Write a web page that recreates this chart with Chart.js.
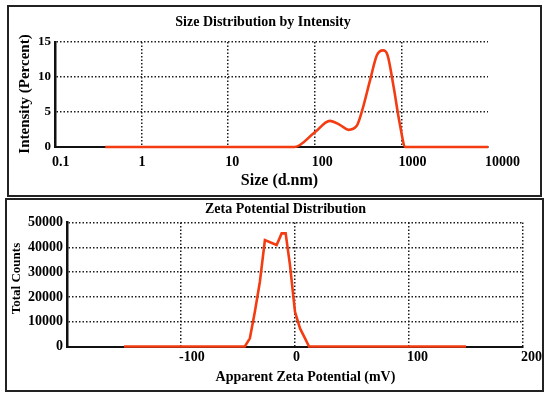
<!DOCTYPE html>
<html><head><meta charset="utf-8">
<script src="https://cdn.jsdelivr.net/npm/chart.js@4.4.1/dist/chart.umd.min.js"></script>
<style>
html,body{margin:0;padding:0;background:#fff;}
body{width:550px;height:399px;position:relative;overflow:hidden;}
.panel{position:absolute;border:2px solid #222;box-sizing:border-box;}
#p1{left:7px;top:5px;width:535px;height:192px;}
#p2{left:5px;top:198px;width:539px;height:194px;}
canvas{position:absolute;left:0;}
#c1{top:0;}
#c2{top:199px;}
</style></head><body>
<div class="panel" id="p1"></div>
<div class="panel" id="p2"></div>
<canvas id="c1" width="550" height="199"></canvas>
<canvas id="c2" width="550" height="200"></canvas>
<script>
// ---- Size distribution by intensity ----
const sizeNm       = [0.38, 58.5, 100, 149, 195, 244, 305, 349, 435, 521, 612, 693, 813, 955, 1114, 10000];
const intensityPct = [0,    0,    2.1, 3.73, 3.16, 2.45, 3.02, 5.05, 9.55, 13.1, 13.8, 13.1, 8.6, 3.4, 0, 0];
const sizeTicks    = [0.1, 1, 10, 100, 1000, 10000];
const intensityTicks = [0, 5, 10, 15];

// ---- Zeta potential distribution ----
const zetaMv      = [-150, -44, -39.6, -35.2, -30.8, -26.4, -16.1, -11.7, -8.2, -4.4, 0, 4.4, 8.8, 12.3, 150];
const totalCounts = [0, 0, 3300, 14000, 26100, 42900, 40900, 45600, 45600, 32800, 14000, 7300, 3300, 0, 0];
const zetaTicks   = [-100, 0, 100, 200];
const countTicks  = [0, 10000, 20000, 30000, 40000, 50000];

const texts1 = {title: 'Size Distribution by Intensity', x: 'Size (d.nm)', y: 'Intensity (Percent)'};
const texts2 = {title: 'Zeta Potential Distribution', x: 'Apparent Zeta Potential (mV)', y: 'Total Counts'};

const SERIF = '"Liberation Serif", "Times New Roman", serif';
const RED = 'rgb(244,60,18)';
const GRID = '#1c1c1c';

const textPlugin = {
  id: 'panelText',
  afterDraw(chart, args, opts) {
    const ctx = chart.ctx;
    for (const t of opts.items) {
      ctx.save();
      ctx.font = t.font;
      ctx.fillStyle = '#000';
      ctx.textAlign = 'center';
      ctx.textBaseline = 'middle';
      ctx.translate(t.x, t.y);
      if (t.rot) ctx.rotate(t.rot);
      ctx.fillText(t.text, 0, 0);
      ctx.restore();
    }
  }
};

function fixTicks(list) {
  return function(scale) { scale.ticks = list.map(v => ({value: v})); };
}

// Top chart
new Chart(document.getElementById('c1'), {
  type: 'line',
  data: {
    datasets: [{
      data: sizeNm.map((s, i) => ({x: s, y: intensityPct[i]})),
      borderColor: RED, borderWidth: 2.6, pointRadius: 0,
      cubicInterpolationMode: 'monotone', clip: 6, fill: false
    }]
  },
  options: {
    responsive: false, animation: false,
    layout: {padding: {left: 0, right: 62, top: 42, bottom: 0}},
    plugins: {
      legend: {display: false}, tooltip: {enabled: false}, title: {display: false},
      panelText: {items: [
        {text: texts1.title, x: 263, y: 22, font: 'bold 14px ' + SERIF},
        {text: texts1.x, x: 279.5, y: 181, font: 'bold 16px ' + SERIF},
        {text: texts1.y, x: 25, y: 94, rot: -Math.PI / 2, font: 'bold 15px ' + SERIF}
      ]}
    },
    scales: {
      x: {
        type: 'logarithmic', min: 0.1, max: 10000,
        afterBuildTicks: fixTicks(sizeTicks),
        afterFit(s) { s.height = 52; },
        grid: {color: c => (c.tick && c.tick.value === 10000) ? 'rgba(0,0,0,0)' : GRID, lineWidth: 1.5, drawTicks: false},
        border: {display: true, color: '#111', width: 2, dash: [1.5, 2]},
        ticks: {autoSkip: false, maxRotation: 0, padding: 7, color: '#000',
          align: 'start', labelOffset: -3,
          font: {family: SERIF, size: 14, weight: 'bold'},
          callback: v => String(v)}
      },
      y: {
        type: 'linear', min: 0, max: 15,
        afterBuildTicks: fixTicks(intensityTicks),
        afterFit(s) { s.width = 55; },
        grid: {color: GRID, lineWidth: 1.5, drawTicks: false},
        border: {display: true, color: '#111', width: 2.5, dash: [1.5, 2]},
        ticks: {padding: 4, color: '#000', font: {family: SERIF, size: 13, weight: 'bold'}}
      }
    }
  },
  plugins: [textPlugin]
});

// Bottom chart
new Chart(document.getElementById('c2'), {
  type: 'line',
  data: {
    datasets: [{
      data: zetaMv.map((m, i) => ({x: m, y: totalCounts[i]})),
      borderColor: RED, borderWidth: 2.6, pointRadius: 0,
      tension: 0, clip: 6, fill: false
    }]
  },
  options: {
    responsive: false, animation: false,
    layout: {padding: {left: 0, right: 27, top: 23.5, bottom: 0}},
    plugins: {
      legend: {display: false}, tooltip: {enabled: false}, title: {display: false},
      panelText: {items: [
        {text: texts2.title, x: 285.5, y: 10.5, font: 'bold 14px ' + SERIF},
        {text: texts2.x, x: 305.5, y: 178, font: 'bold 14px ' + SERIF},
        {text: texts2.y, x: 17, y: 79.5, rot: -Math.PI / 2, font: 'bold 13px ' + SERIF}
      ]}
    },
    scales: {
      x: {
        type: 'linear', min: -200, max: 200,
        afterBuildTicks: fixTicks(zetaTicks),
        afterFit(s) { s.height = 52.5; },
        grid: {color: GRID, lineWidth: 1.5, drawTicks: false},
        border: {display: true, color: '#111', width: 2, dash: [1.5, 2]},
        ticks: {autoSkip: false, maxRotation: 0, padding: 2.5, color: '#000',
          align: 'start', labelOffset: -2,
          font: {family: SERIF, size: 14, weight: 'bold'},
          callback: v => String(v)}
      },
      y: {
        type: 'linear', min: 0, max: 50000,
        afterBuildTicks: fixTicks(countTicks),
        afterFit(s) { s.width = 67; },
        grid: {color: GRID, lineWidth: 1.5, drawTicks: false},
        border: {display: true, color: '#111', width: 2.5, dash: [1.5, 2]},
        ticks: {padding: 4, color: '#000', font: {family: SERIF, size: 14, weight: 'bold'},
          callback: v => String(v)}
      }
    }
  },
  plugins: [textPlugin]
});
</script>
</body></html>
